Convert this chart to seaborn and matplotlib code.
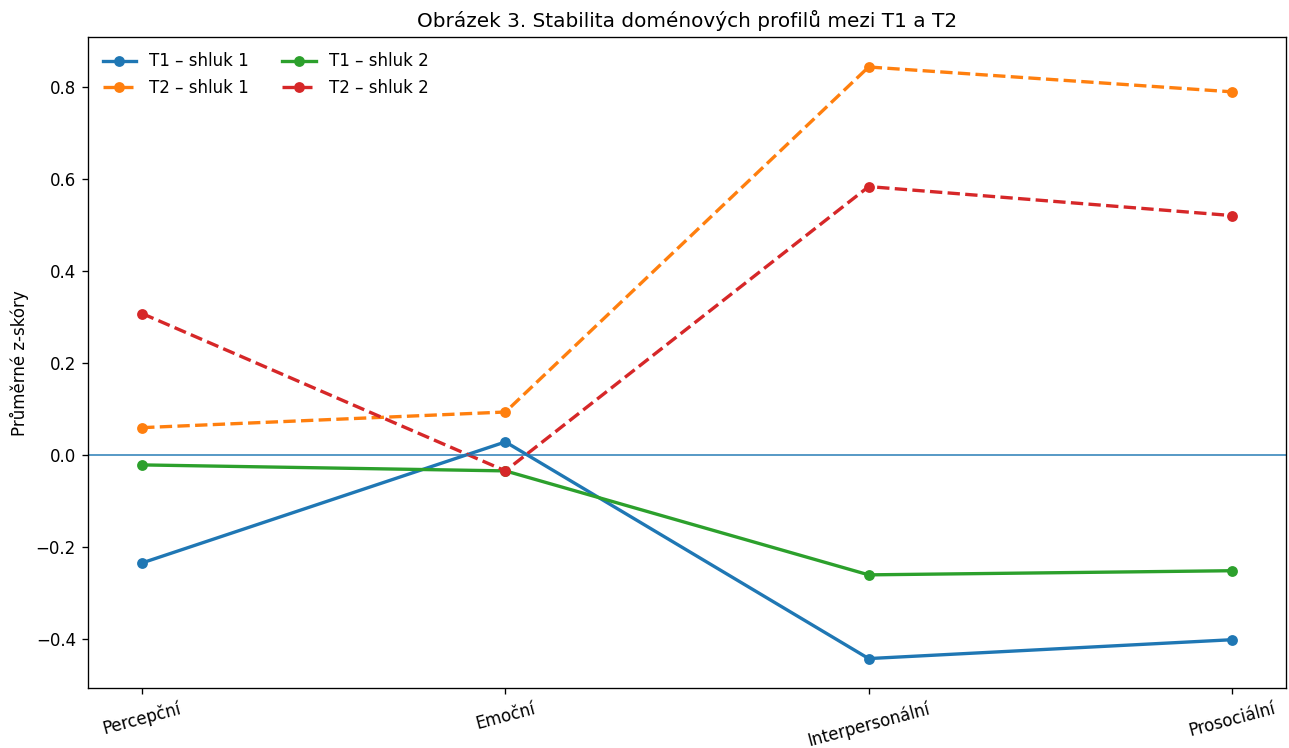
import pandas as pd
import matplotlib
matplotlib.use("Agg")
import matplotlib.pyplot as plt
import seaborn as sns

# Domain profiles (mean z-scores)
domains = ["Percepční", "Emoční", "Interpersonální", "Prosociální"]
t1_shluk1 = [-0.235, 0.028, -0.443, -0.402]
t2_shluk1 = [0.059, 0.093, 0.843, 0.789]
t1_shluk2 = [-0.022, -0.035, -0.261, -0.252]
t2_shluk2 = [0.307, -0.035, 0.583, 0.520]

series = [
    ("T1 – shluk 1", t1_shluk1, "#1f77b4", "-"),
    ("T2 – shluk 1", t2_shluk1, "#ff7f0e", "--"),
    ("T1 – shluk 2", t1_shluk2, "#2ca02c", "-"),
    ("T2 – shluk 2", t2_shluk2, "#d62728", "--"),
]

DPI = 120
fig, ax = plt.subplots(figsize=(1289 / DPI, 748 / DPI), dpi=DPI)
fig.subplots_adjust(left=0.068, right=0.998, top=0.950, bottom=0.080)

for label, vals, color, ls in series:
    df = pd.DataFrame({"domena": domains, "z": vals})
    sns.lineplot(data=df, x="domena", y="z", ax=ax, color=color, linestyle=ls,
                 linewidth=2, marker="o", markersize=6.5, markeredgewidth=0,
                 label=label, sort=False)

ax.axhline(0, color="#1f77b4", linewidth=1.1, alpha=0.8)

ax.set_title("Obrázek 3. Stabilita doménových profilů mezi T1 a T2", fontsize=12)
ax.set_xlabel("")
ax.set_ylabel("Průměrné z-skóry")
plt.setp(ax.get_xticklabels(), rotation=15)
ax.legend(ncol=2, frameon=False, loc="upper left")

plt.savefig("out.png", dpi=DPI)
plt.close()
